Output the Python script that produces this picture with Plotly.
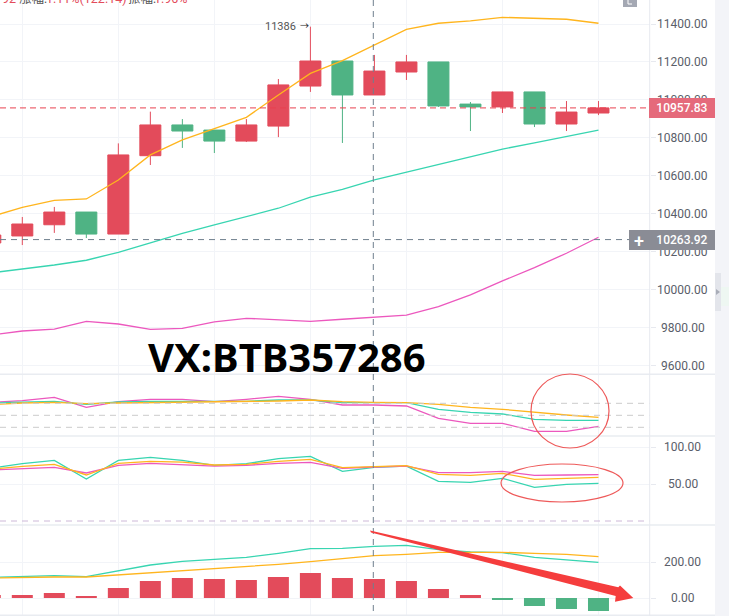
import plotly.graph_objects as go
from plotly.subplots import make_subplots

W, H = 729, 616

# 蜡烛图数据
x_idx = list(range(20))
open_ = [10246, 10283, 10342, 10409, 10293, 10706, 10868, 10841, 10783, 10862, 11073, 11205, 11026, 11147, 11200, 10978, 10963, 11042, 10873, 10931]
close = [10288, 10346, 10409, 10293, 10710, 10868, 10836, 10783, 10868, 11079, 11205, 11026, 11152, 11200, 10968, 10963, 11042, 10873, 10936, 10957.83]
high = [10310, 10383, 10436, 10409, 10771, 10938, 10899, 10841, 10899, 11110, 11386, 11205, 11237, 11237, 11200, 10989, 11042, 11042, 10994, 10994]
low = [10230, 10235, 10299, 10272, 10293, 10657, 10747, 10720, 10778, 10804, 11042, 10773, 11026, 11105, 10963, 10836, 10931, 10857, 10836, 10920]

# 布林带
boll_up = [10383, 10434, 10471, 10478, 10578, 10710, 10789, 10850, 10908, 11026, 11140, 11207, 11289, 11372, 11404, 11417, 11435, 11430, 11425, 11404]
boll_mid = [10088, 10107, 10130, 10155, 10197, 10247, 10297, 10341, 10384, 10429, 10488, 10529, 10578, 10618, 10657, 10701, 10741, 10774, 10806, 10841]
boll_low = [9761, 9782, 9792, 9833, 9819, 9791, 9796, 9830, 9849, 9840, 9833, 9844, 9854, 9866, 9910, 9972, 10046, 10116, 10192, 10276]

# 第二个指标
p2_magenta = [82.5, 86.7, 95, 70, 84.2, 90, 90, 84.2, 90, 97.5, 90, 75.8, 75.8, 73.3, 42.5, 30, 30, 10, 10, 22.5]
p2_teal = [80.8, 82.5, 85, 77.5, 83.3, 85, 85, 84.2, 85, 88.3, 88.3, 81.7, 81.7, 81.7, 65, 57.5, 53.3, 40, 37.5, 37.5]
p2_orange = [76.7, 80.8, 82.5, 79.2, 80.8, 81.7, 82.5, 83.3, 84.2, 85.8, 88.3, 84.2, 82.5, 81.7, 77.5, 70, 65, 57.5, 50.8, 45]
p2_levels = [80, 50, 20]

# 第三个指标
p3_teal = [71.2, 77.5, 82, 56.8, 82, 86, 82, 75.2, 77.5, 84.2, 87.4, 67.1, 72.5, 74.3, 53.6, 52.2, 57.7, 45.5, 49.5, 50.9]
p3_magenta = [68.9, 71.2, 72.5, 64.9, 75.2, 77.9, 76.6, 74.3, 75.2, 77.9, 79.3, 71.2, 73, 74.3, 65.3, 65.3, 67.1, 61.7, 62.2, 62.6]
p3_orange = [69.8, 73.9, 76.6, 62.2, 77.9, 80.6, 79.7, 75.7, 76.6, 80.6, 83.3, 72.1, 73.4, 74.8, 63.1, 61.7, 64.4, 56.3, 57.7, 59]

# MACD
macd_hist = [16.7, 16.7, 27.8, 11.1, 55.6, 94.4, 111, 105.6, 100, 116.7, 138.9, 111, 105.6, 94.4, 50, 16.7, -5.6, -44.4, -61, -72.2]
macd_dif = [114.8, 118.5, 124, 118.5, 150, 183.3, 203.7, 214.8, 226, 248, 274, 276, 287, 292.6, 268.5, 255.6, 252, 226, 213, 198]
macd_dea = [111, 114.8, 116.7, 116.7, 127.8, 138.9, 150, 161, 176, 187, 202, 220, 235, 242.6, 253.7, 253.7, 253.7, 248, 242.6, 229.6]

price_ticks = [11400, 11200, 11000, 10800, 10600, 10400, 10200, 10000, 9800, 9600]
p3_ticks = [100, 50]
macd_ticks = [200, 0]
x_grid = [1, 4, 7, 10, 13, 16, 19]
last_price = 10957.83
avg_price = 10263.92

RED = "#E34B5B"
GREEN = "#4FB384"
ORANGE = "#FFB51E"
TEAL = "#38D5B1"
MAGENTA = "#EC58BE"
GRID = "#F2F4F8"
EDGE = "#E7E9EF"
LABEL = "#5A5E69"
FONT = "Roboto, Noto Sans CJK SC, sans-serif"


def px_x(v):
    return v / W


def px_y(v):
    return 1 - v / H


fig = make_subplots(rows=4, cols=1, shared_xaxes=True, vertical_spacing=0,
                    row_heights=[374, 62, 89, 91])

fig.add_trace(go.Candlestick(x=x_idx, open=open_, high=high, low=low, close=close,
                             whiskerwidth=0,
                             increasing=dict(line=dict(color=RED, width=1), fillcolor=RED),
                             decreasing=dict(line=dict(color=GREEN, width=1), fillcolor=GREEN)),
              row=1, col=1)


def add_line(values, color, row):
    fig.add_trace(go.Scatter(x=x_idx, y=values, mode="lines",
                             line=dict(color=color, width=1.3)), row=row, col=1)


add_line(boll_up, ORANGE, 1)
add_line(boll_mid, TEAL, 1)
add_line(boll_low, MAGENTA, 1)

add_line(p2_magenta, MAGENTA, 2)
add_line(p2_teal, TEAL, 2)
add_line(p2_orange, ORANGE, 2)

add_line(p3_teal, TEAL, 3)
add_line(p3_magenta, MAGENTA, 3)
add_line(p3_orange, ORANGE, 3)

fig.add_trace(go.Bar(x=x_idx, y=macd_hist, width=0.656,
                     marker=dict(color=[RED if v >= 0 else GREEN for v in macd_hist], line_width=0)),
              row=4, col=1)
add_line(macd_dif, TEAL, 4)
add_line(macd_dea, ORANGE, 4)

# 坐标轴
fig.update_xaxes(domain=[0, 649.7 / W], range=[0.303, 20.6], showticklabels=False,
                 tickmode="array", tickvals=x_grid, gridcolor=GRID, gridwidth=1,
                 showgrid=True, zeroline=False, showline=False, ticks="",
                 rangeslider_visible=False)
y_common = dict(side="right", showticklabels=False, gridcolor=GRID, gridwidth=1, zeroline=False,
                showline=False, ticks="outside", ticklen=5, tickcolor=EDGE, tickmode="array")
fig.update_yaxes(range=[9555.5, 11526.5], tickvals=price_ticks, row=1, col=1, **y_common)
fig.update_yaxes(range=[-1.75, 153.25], tickvals=[], row=2, col=1, **y_common)
fig.update_yaxes(range=[-5.4, 114.9], tickvals=p3_ticks, row=3, col=1, **y_common)
fig.update_yaxes(range=[-100, 405.6], tickvals=macd_ticks, row=4, col=1, **y_common)

# 虚线
for lv in p2_levels:
    fig.add_hline(y=lv, line=dict(color="#CBCBCB", width=1, dash="6px,5px"), row=2, col=1)
fig.add_hline(y=0, line=dict(color="#CDB8D8", width=1, dash="6px,5px"), row=3, col=1)
fig.add_hline(y=last_price, line=dict(color="#E8414F", width=1, dash="6px,4px"), row=1, col=1)
fig.add_hline(y=avg_price, line=dict(color="#6F7F8E", width=1, dash="6px,5px"), row=1, col=1)

shapes = []


def rect(x0, y0, x1, y1, color):
    shapes.append(dict(type="rect", xref="paper", yref="paper", layer="above",
                       x0=px_x(x0), x1=px_x(x1), y0=px_y(y0), y1=px_y(y1),
                       fillcolor=color, line_width=0))


def seg(x0, y0, x1, y1, color, width=1, dash="solid"):
    shapes.append(dict(type="line", xref="paper", yref="paper", layer="above",
                       x0=px_x(x0), x1=px_x(x1), y0=px_y(y0), y1=px_y(y1),
                       line=dict(color=color, width=width, dash=dash)))


# 分隔线、右侧条
for sy in [374.3, 436, 525, 615.3]:
    seg(0, sy, 715, sy, "#E9ECF1", 1.5)
seg(649.7, 0, 649.7, H, EDGE, 1)
rect(715, 0, W, H, "#F3F4F8")
rect(720.5, 287, W, 306, "#EEF7F2")
rect(715, 273, 721, 311, "#E3E5EB")
shapes.append(dict(type="path", xref="paper", yref="paper", layer="above",
                   path=f"M {px_x(716)},{px_y(289)} L {px_x(720)},{px_y(292)} L {px_x(716)},{px_y(295)} Z",
                   fillcolor="#A9ADB8", line_width=0))
rect(623, 0, 637, 7, "#A4A8B3")
seg(628, 0, 628, 4, "white", 1)
seg(628, 4, 632, 4, "white", 1)

# 十字线
seg(373.3, 0, 373.3, H, "#6F7F8E", 1, "6px,5px")


def outline(x0, y0, x1, y1):
    shapes.append(dict(type="circle", xref="paper", yref="paper", layer="above",
                       x0=px_x(x0), x1=px_x(x1), y0=px_y(y0), y1=px_y(y1),
                       line=dict(color="#EE5A5A", width=1.2)))


# 手绘的圈和箭头
outline(531, 374, 609, 448)
outline(501, 464, 623, 502)
arrow = [(370, 530.5), (618.3, 587.3), (620, 585.5), (633.3, 598), (615, 601.7), (615.7, 596), (371, 532.5)]
arrow_path = "M " + " L ".join(f"{px_x(a)},{px_y(b)}" for a, b in arrow) + " Z"
shapes.append(dict(type="path", xref="paper", yref="paper", layer="above", path=arrow_path,
                   fillcolor="#F53D3D", line_width=0))

annotations = []


def tick_label(text, value, yref):
    annotations.append(dict(text=text, x=px_x(682.5), xref="paper", y=value, yref=yref,
                            xanchor="center", yanchor="middle", showarrow=False,
                            font=dict(family=FONT, size=12, color=LABEL)))


def box_label(text, xc, yc, width, color, size=12):
    annotations.append(dict(text=text, x=px_x(xc), xref="paper", y=px_y(yc), yref="paper",
                            xanchor="center", yanchor="middle", showarrow=False,
                            width=width, height=20, bgcolor=color, borderpad=0, borderwidth=0,
                            font=dict(family=FONT, size=size, color="white", weight=500)))


def free_text(text, x, y, size, color, anchor="left", weight="normal", family=FONT):
    annotations.append(dict(text=text, x=px_x(x), xref="paper", y=px_y(y), yref="paper",
                            xanchor=anchor, yanchor="middle", showarrow=False,
                            font=dict(family=family, size=size, color=color, weight=weight)))


for t in price_ticks:
    tick_label(f"{t:.2f}", t, "y")
for t in p3_ticks:
    tick_label(f"{t:.2f}", t, "y3")
for t in macd_ticks:
    tick_label(f"{t:.2f}", t, "y4")

box_label(f"{last_price:.2f}", 682.3, 108, 66, "#E56A7B")
box_label(f"{avg_price:.2f}", 682.3, 240, 66, "#8A8C95")
box_label("+", 639, 240, 20, "#8A8C95", 18)

free_text("11386", 263, 26, 11, "#555555")
free_text("→", 298, 26, 9, "#222222")
free_text("VX:BTB357286", 287, 356, 40, "black", "center", "bold", "Noto Sans, sans-serif")

# 顶部被裁掉的行情文字
free_text("92", 0, -1, 12.5, RED)
free_text("涨幅:", 17, -1, 12.5, "#555555")
free_text("1.11%(122.14)", 44, -1, 12.5, RED)
free_text("振幅:", 126, -1, 12.5, "#555555")
free_text("1.96%", 152, -1, 12.5, RED)

fig.update_layout(width=W, height=H, margin=dict(l=0, r=0, t=0, b=0), showlegend=False,
                  paper_bgcolor="white", plot_bgcolor="white", boxgap=0.2, boxgroupgap=0.18,
                  font=dict(family=FONT))
fig.update_layout(shapes=list(fig.layout.shapes) + shapes, annotations=annotations)

fig.write_html("out.html", config={"displayModeBar": False},
               post_script="document.body.style.margin='0';")
